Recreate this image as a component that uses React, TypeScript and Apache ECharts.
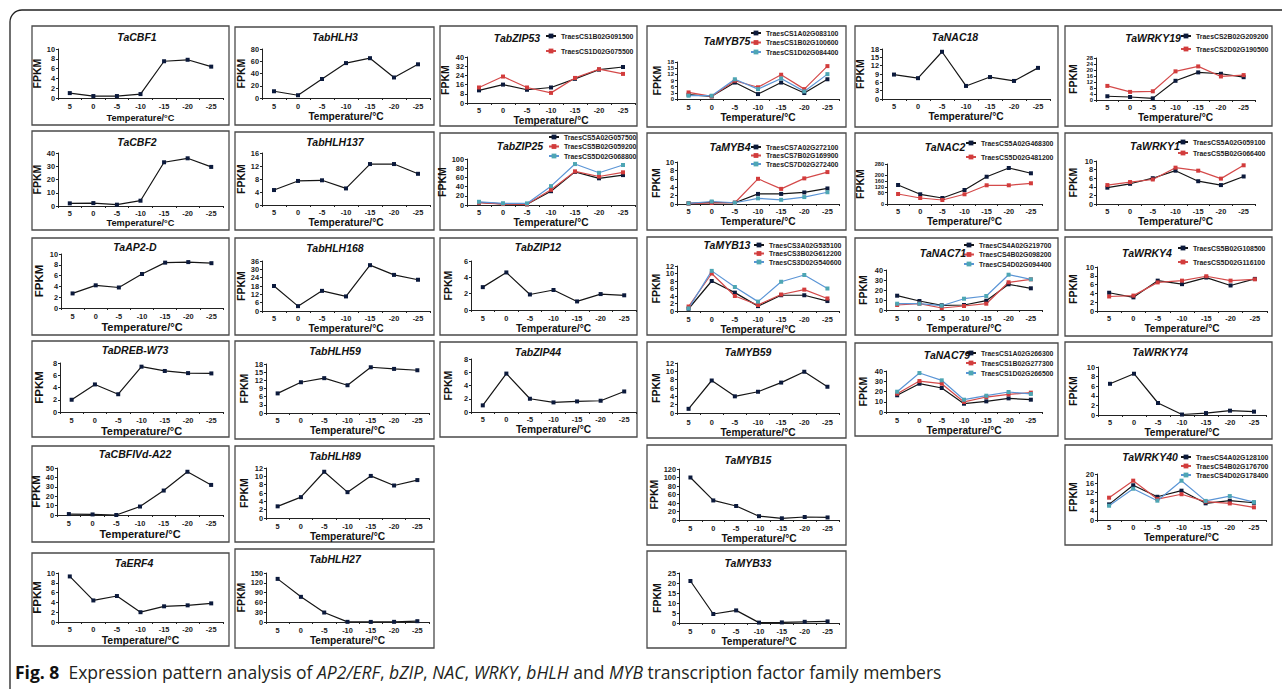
import React, { useEffect, useRef } from 'react';
import * as echarts from 'echarts';

const temperatures = ['5', '0', '-5', '-10', '-15', '-20', '-25'];

// ---- single-series panels (FPKM) ----
const TaCBF1 = [1.0, 0.4, 0.4, 0.8, 7.5, 7.8, 6.4];
const TaCBF2 = [2.0, 2.2, 1.0, 4.0, 33, 36, 29.5];
const TaAP2D = [2.7, 4.2, 3.8, 6.3, 8.4, 8.5, 8.3];
const TaDREBW73 = [2.0, 4.5, 2.9, 7.4, 6.7, 6.35, 6.3];
const TaCBFIVdA22 = [1, 0.6, 0, 9, 26, 46, 32];
const TaERF4 = [9.3, 4.4, 5.3, 2.0, 3.2, 3.4, 3.8];
const TabHLH3 = [11, 4.5, 31, 57, 65, 33.5, 55];
const TabHLH137 = [4.6, 7.4, 7.6, 5.1, 12.6, 12.6, 9.6];
const TabHLH168 = [18, 3.5, 14.5, 10.5, 33, 26, 22.5];
const TabHLH59 = [7.2, 11.3, 12.8, 10.2, 16.8, 16.2, 15.7];
const TabHLH89 = [2.8, 5.0, 11.1, 6.2, 10.1, 7.8, 9.1];
const TabHLH27 = [132, 77, 29, 0.5, 0.3, 0.5, 2.5];
const TabZIP12 = [2.8, 4.6, 1.9, 2.45, 1.05, 1.95, 1.8];
const TabZIP44 = [1.0, 5.8, 2.0, 1.45, 1.6, 1.7, 3.1];
const TaMYB59 = [1.0, 7.8, 4.0, 5.1, 7.3, 9.9, 6.3];
const TaMYB15 = [100, 46, 33, 9, 4, 7, 6];
const TaMYB33 = [21, 4.5, 6.3, 0.2, 0.3, 0.6, 0.8];
const TaNAC18 = [8.8, 7.5, 17, 4.7, 7.9, 6.5, 11.2];
const TaWRKY74 = [6.5, 8.6, 2.5, 0.1, 0.4, 0.9, 0.7];

// ---- multi-copy panels (FPKM per homoeolog) ----
const TraesCS1B02G091500 = [11, 16, 11.5, 13.5, 21, 29, 31.3];
const TraesCS1D02G075500 = [13.5, 23, 13.5, 8.8, 21.8, 29.4, 25.3];
const TraesCS5A02G057500 = [5.5, 2.5, 1.5, 30, 72, 58, 65];
const TraesCS5B02G059200 = [5, 2, 1.5, 33, 73, 62, 71];
const TraesCS5D02G068800 = [7, 3.6, 3.5, 41, 89, 70, 87];
const TraesCS1A02G083100 = [2.1, 1.3, 8.0, 2.4, 8.0, 2.9, 9.6];
const TraesCS1B02G100600 = [3.2, 1.3, 8.9, 5.7, 11.8, 4.8, 16.0];
const TraesCS1D02G084400 = [1.6, 1.6, 9.6, 4.8, 10.0, 3.7, 12.1];
const TraesCS7A02G272100 = [0.15, 0.4, 0.3, 2.4, 2.4, 2.75, 3.7];
const TraesCS7B02G169900 = [0.1, 0.25, 0.3, 6.0, 3.6, 6.1, 7.6];
const TraesCS7D02G272400 = [0.15, 0.6, 0.3, 1.35, 1.0, 1.65, 2.8];
const TraesCS3A02G535100 = [0.6, 8.0, 4.9, 1.3, 4.2, 4.2, 2.65];
const TraesCS3B02G612200 = [1.2, 10.0, 4.0, 1.6, 4.4, 5.7, 3.35];
const TraesCS3D02G540600 = [0.7, 10.7, 6.4, 2.5, 7.8, 9.6, 6.0];
const TraesCS5A02G468300 = [133, 68, 42, 98, 191, 252, 215];
const TraesCS5D02G481200 = [70, 42, 28, 68, 131, 131, 145];
const TraesCS4A02G219700 = [14.3, 9, 4.7, 5, 9.3, 25.7, 21.7];
const TraesCS4B02G098200 = [5, 6.3, 2, 4, 6.3, 27.7, 30.7];
const TraesCS4D02G094400 = [6.3, 6.3, 4.3, 11.3, 14, 35.3, 30.7];
const TraesCS1A02G266300 = [16.3, 27.6, 23.4, 8.1, 10.4, 13.3, 12];
const TraesCS1B02G277300 = [17.9, 30.2, 27.6, 9.8, 14.6, 17.2, 18.9];
const TraesCS1D02G266500 = [19.8, 38, 30.9, 12, 15.9, 19.5, 17.6];
const TraesCS2B02G209200 = [2.5, 2.0, 1.1, 12.8, 18.4, 17.5, 15.2];
const TraesCS2D02G190500 = [9.4, 5.4, 5.8, 19.1, 22.4, 15.7, 16.6];
const TraesCS5A02G059100 = [3.8, 4.7, 6.0, 7.75, 5.3, 4.4, 6.4];
const TraesCS5B02G066400 = [4.4, 5.1, 5.7, 8.45, 7.75, 5.9, 9.0];
const TraesCS5B02G108500 = [4.15, 3.1, 6.9, 6.1, 7.6, 5.8, 7.3];
const TraesCS5D02G116100 = [3.3, 3.5, 6.5, 6.9, 7.9, 6.9, 7.2];
const TraesCS4A02G128100 = [6.8, 15.1, 10.1, 12.75, 7.25, 8.4, 7.5];
const TraesCS4B02G176700 = [9.7, 17.1, 9.1, 11.2, 8, 7.2, 5.5];
const TraesCS4D02G178400 = [6.2, 13.6, 8.4, 17.1, 8.3, 10.4, 7.8];

// ---- styles ----
const FONT = '"Liberation Sans", Arial, sans-serif';
const CAPFONT = '"Open Sans", "Noto Sans", sans-serif';
const INK = '#1a1a1a';
const STYLE: Record<string, { line: string; mark: string }> = {
  k: { line: '#151515', mark: '#0c1a3c' },
  r: { line: '#d44a4a', mark: '#d23c3c' },
  b: { line: '#5b95d6', mark: '#4ea6b4' },
};

type S = { name: string; data: number[]; kind: 'k' | 'r' | 'b' };
type Panel = {
  title: string;
  series: S[];
  yMax: number;
  yStep: number;
  box: [number, number, number, number];
  tpos: [number, number];
  plot: [number, number, number, number]; // left, top, right, zero-line y
  labelY: number;
  nameY: number;
  nameSize?: number;
  fpkmX: number;
  fpkmSize?: number;
  ySize?: number;
  legend?: [number, number, number]; // text start x, first row y, row spacing
};

const one = (name: string, data: number[]): S[] => [{ name, data, kind: 'k' }];

const panels: Panel[] = [
  // column 1
  { title: 'TaCBF1', series: one('TaCBF1', TaCBF1), yMax: 10, yStep: 2, box: [32, 26, 197, 99], tpos: [137, 37], plot: [58, 49, 223, 98], labelY: 107, nameY: 118, nameSize: 9.2, fpkmX: 39 },
  { title: 'TaCBF2', series: one('TaCBF2', TaCBF2), yMax: 40, yStep: 10, box: [32, 131, 197, 99], tpos: [137, 142], plot: [58, 153, 223, 206], labelY: 214, nameY: 223, nameSize: 9.2, fpkmX: 39 },
  { title: 'TaAP2-D', series: one('TaAP2-D', TaAP2D), yMax: 10, yStep: 2, box: [32, 238, 197, 97], tpos: [135, 247], plot: [61, 254, 223, 308], labelY: 317, nameY: 326, nameSize: 11, fpkmX: 39, fpkmSize: 11.5 },
  { title: 'TaDREB-W73', series: one('TaDREB-W73', TaDREBW73), yMax: 8, yStep: 2, box: [32, 341, 197, 96], tpos: [135, 350], plot: [60, 363, 223, 412], labelY: 421, nameY: 427, nameSize: 11, fpkmX: 39, fpkmSize: 11.5 },
  { title: 'TaCBFIVd-A22', series: one('TaCBFIVd-A22', TaCBFIVdA22), yMax: 50, yStep: 10, box: [32, 446, 197, 96], tpos: [135, 454], plot: [57, 468, 223, 515], labelY: 524, nameY: 533, nameSize: 11, fpkmX: 39, fpkmSize: 11.5 },
  { title: 'TaERF4', series: one('TaERF4', TaERF4), yMax: 10, yStep: 2, box: [32, 553, 197, 93], tpos: [134, 563], plot: [58, 573, 223, 622], labelY: 630, nameY: 636, nameSize: 10.5, fpkmX: 39, fpkmSize: 11.5 },
  // column 2
  { title: 'TabHLH3', series: one('TabHLH3', TabHLH3), yMax: 80, yStep: 20, box: [235, 27, 199, 98], tpos: [335, 37], plot: [262, 49, 430, 98], labelY: 107, nameY: 117, fpkmX: 242 },
  { title: 'TabHLH137', series: one('TabHLH137', TabHLH137), yMax: 16, yStep: 4, box: [235, 132, 199, 98], tpos: [335, 142], plot: [262, 153, 430, 205], labelY: 213, nameY: 221, fpkmX: 242 },
  { title: 'TabHLH168', series: one('TabHLH168', TabHLH168), yMax: 36, yStep: 6, box: [235, 238, 199, 97], tpos: [335, 248], plot: [262, 261, 430, 311], labelY: 319, nameY: 327, fpkmX: 242 },
  { title: 'TabHLH59', series: one('TabHLH59', TabHLH59), yMax: 18, yStep: 3, box: [235, 341, 199, 98], tpos: [335, 351], plot: [266, 364, 429, 413], labelY: 421, nameY: 429, fpkmX: 244 },
  { title: 'TabHLH89', series: one('TabHLH89', TabHLH89), yMax: 12, yStep: 2, box: [235, 446, 199, 96], tpos: [335, 456], plot: [266, 468, 429, 518], labelY: 527, nameY: 533, fpkmX: 244 },
  { title: 'TabHLH27', series: one('TabHLH27', TabHLH27), yMax: 150, yStep: 30, box: [235, 549, 199, 99], tpos: [335, 559], plot: [266, 573, 429, 622], labelY: 631, nameY: 638, fpkmX: 244 },
  // column 3
  {
    title: 'TabZIP53', yMax: 40, yStep: 8, box: [440, 26, 197, 100], tpos: [517, 38], plot: [467, 57, 635, 103], labelY: 111, nameY: 117, fpkmX: 445, legend: [560, 36, 15],
    series: [
      { name: 'TraesCS1B02G091500', data: TraesCS1B02G091500, kind: 'k' },
      { name: 'TraesCS1D02G075500', data: TraesCS1D02G075500, kind: 'r' },
    ],
  },
  {
    title: 'TabZIP25', yMax: 100, yStep: 20, box: [440, 133, 197, 97], tpos: [520, 146], plot: [467, 159, 635, 205], labelY: 213, nameY: 221, fpkmX: 445, legend: [563, 137, 9.5],
    series: [
      { name: 'TraesCS5A02G057500', data: TraesCS5A02G057500, kind: 'k' },
      { name: 'TraesCS5B02G059200', data: TraesCS5B02G059200, kind: 'r' },
      { name: 'TraesCS5D02G068800', data: TraesCS5D02G068800, kind: 'b' },
    ],
  },
  { title: 'TabZIP12', series: one('TabZIP12', TabZIP12), yMax: 6, yStep: 2, box: [440, 238, 197, 97], tpos: [538, 247], plot: [471, 261, 636, 310], labelY: 319, nameY: 327, fpkmX: 448 },
  { title: 'TabZIP44', series: one('TabZIP44', TabZIP44), yMax: 8, yStep: 2, box: [440, 342, 197, 95], tpos: [538, 352], plot: [471, 359, 636, 412], labelY: 420, nameY: 428, fpkmX: 448 },
  // column 4
  {
    title: 'TaMYB75', yMax: 18, yStep: 3, box: [647, 26, 199, 101], tpos: [727, 41], plot: [677, 62, 839, 99], labelY: 108, nameY: 117, fpkmX: 657, ySize: 6, legend: [765, 33, 9.5],
    series: [
      { name: 'TraesCS1A02G083100', data: TraesCS1A02G083100, kind: 'k' },
      { name: 'TraesCS1B02G100600', data: TraesCS1B02G100600, kind: 'r' },
      { name: 'TraesCS1D02G084400', data: TraesCS1D02G084400, kind: 'b' },
    ],
  },
  {
    title: 'TaMYB4', yMax: 10, yStep: 2, box: [647, 133, 199, 97], tpos: [730, 147], plot: [677, 162, 839, 204], labelY: 212, nameY: 220, fpkmX: 657, legend: [765, 147, 8.5],
    series: [
      { name: 'TraesCS7A02G272100', data: TraesCS7A02G272100, kind: 'k' },
      { name: 'TraesCS7B02G169900', data: TraesCS7B02G169900, kind: 'r' },
      { name: 'TraesCS7D02G272400', data: TraesCS7D02G272400, kind: 'b' },
    ],
  },
  {
    title: 'TaMYB13', yMax: 12, yStep: 2, box: [647, 237, 199, 98], tpos: [727, 245], plot: [677, 266, 839, 311], labelY: 320, nameY: 325, fpkmX: 657, legend: [768, 245, 8.5],
    series: [
      { name: 'TraesCS3A02G535100', data: TraesCS3A02G535100, kind: 'k' },
      { name: 'TraesCS3B02G612200', data: TraesCS3B02G612200, kind: 'r' },
      { name: 'TraesCS3D02G540600', data: TraesCS3D02G540600, kind: 'b' },
    ],
  },
  { title: 'TaMYB59', series: one('TaMYB59', TaMYB59), yMax: 12, yStep: 2, box: [647, 342, 199, 96], tpos: [748, 352], plot: [677, 363, 839, 413], labelY: 423, nameY: 430, fpkmX: 657 },
  { title: 'TaMYB15', series: one('TaMYB15', TaMYB15), yMax: 120, yStep: 20, box: [647, 445, 199, 100], tpos: [748, 460], plot: [679, 469, 839, 520], labelY: 529, nameY: 535, fpkmX: 657 },
  { title: 'TaMYB33', series: one('TaMYB33', TaMYB33), yMax: 25, yStep: 5, box: [647, 551, 199, 97], tpos: [748, 563], plot: [679, 573, 839, 623], labelY: 632, nameY: 641, fpkmX: 657 },
  // column 5
  { title: 'TaNAC18', series: one('TaNAC18', TaNAC18), yMax: 18, yStep: 3, box: [855, 26, 203, 101], tpos: [955, 37], plot: [882, 49, 1050, 99], labelY: 107, nameY: 117, fpkmX: 860 },
  {
    title: 'TaNAC2', yMax: 280, yStep: 40, box: [855, 133, 203, 97], tpos: [945, 147], plot: [887, 164, 1042, 204], labelY: 212, nameY: 220, fpkmX: 860, ySize: 5.6, legend: [980, 143, 14],
    series: [
      { name: 'TraesCS5A02G468300', data: TraesCS5A02G468300, kind: 'k' },
      { name: 'TraesCS5D02G481200', data: TraesCS5D02G481200, kind: 'r' },
    ],
  },
  {
    title: 'TaNAC71', yMax: 40, yStep: 10, box: [855, 238, 203, 97], tpos: [943, 253], plot: [886, 270, 1042, 310], labelY: 319, nameY: 327, fpkmX: 863, legend: [978, 245, 9.5],
    series: [
      { name: 'TraesCS4A02G219700', data: TraesCS4A02G219700, kind: 'k' },
      { name: 'TraesCS4B02G098200', data: TraesCS4B02G098200, kind: 'r' },
      { name: 'TraesCS4D02G094400', data: TraesCS4D02G094400, kind: 'b' },
    ],
  },
  {
    title: 'TaNAC79', yMax: 40, yStep: 10, box: [855, 343, 203, 93], tpos: [947, 355], plot: [886, 371, 1042, 412], labelY: 421, nameY: 427, fpkmX: 863, legend: [980, 353, 10],
    series: [
      { name: 'TraesCS1A02G266300', data: TraesCS1A02G266300, kind: 'k' },
      { name: 'TraesCS1B02G277300', data: TraesCS1B02G277300, kind: 'r' },
      { name: 'TraesCS1D02G266500', data: TraesCS1D02G266500, kind: 'b' },
    ],
  },
  // column 6
  {
    title: 'TaWRKY19', yMax: 28, yStep: 4, box: [1065, 26, 207, 100], tpos: [1153, 38], plot: [1096, 58, 1255, 100], labelY: 108, nameY: 117, fpkmX: 1073, ySize: 5.9, legend: [1195, 36, 13],
    series: [
      { name: 'TraesCS2B02G209200', data: TraesCS2B02G209200, kind: 'k' },
      { name: 'TraesCS2D02G190500', data: TraesCS2D02G190500, kind: 'r' },
    ],
  },
  {
    title: 'TaWRKY1', yMax: 10, yStep: 2, box: [1065, 133, 207, 97], tpos: [1155, 146], plot: [1096, 161, 1255, 204], labelY: 212, nameY: 220, fpkmX: 1073, legend: [1192, 142, 11],
    series: [
      { name: 'TraesCS5A02G059100', data: TraesCS5A02G059100, kind: 'k' },
      { name: 'TraesCS5B02G066400', data: TraesCS5B02G066400, kind: 'r' },
    ],
  },
  {
    title: 'TaWRKY4', yMax: 10, yStep: 2, box: [1065, 237, 207, 99], tpos: [1147, 253], plot: [1097, 267, 1267, 311], labelY: 319, nameY: 328, fpkmX: 1073, legend: [1192, 248, 14],
    series: [
      { name: 'TraesCS5B02G108500', data: TraesCS5B02G108500, kind: 'k' },
      { name: 'TraesCS5D02G116100', data: TraesCS5D02G116100, kind: 'r' },
    ],
  },
  { title: 'TaWRKY74', series: one('TaWRKY74', TaWRKY74), yMax: 10, yStep: 2, box: [1065, 342, 207, 97], tpos: [1160, 352], plot: [1098, 367, 1266, 415], labelY: 423, nameY: 432, fpkmX: 1073 },
  {
    title: 'TaWRKY40', yMax: 20, yStep: 4, box: [1065, 445, 207, 100], tpos: [1150, 457], plot: [1097, 474, 1266, 520], labelY: 528, nameY: 535, fpkmX: 1073, legend: [1195, 457, 9],
    series: [
      { name: 'TraesCS4A02G128100', data: TraesCS4A02G128100, kind: 'k' },
      { name: 'TraesCS4B02G176700', data: TraesCS4B02G176700, kind: 'r' },
      { name: 'TraesCS4D02G178400', data: TraesCS4D02G178400, kind: 'b' },
    ],
  },
];

const captionText =
  '{b|Fig. 8}  Expression pattern analysis of {i|AP2/ERF}, {i|bZIP}, {i|NAC}, {i|WRKY}, {i|bHLH} and {i|MYB} transcription factor family members';

function buildOption() {
  const grid: any[] = [];
  const xAxis: any[] = [];
  const yAxis: any[] = [];
  const series: any[] = [];
  const legend: any[] = [];
  const graphic: any[] = [];

  graphic.push({
    type: 'rect',
    z: 0,
    shape: { x: 10, y: 10, width: 1300, height: 700, r: [12, 0, 0, 0] },
    style: { fill: 'none', stroke: '#222', lineWidth: 1.3 },
  });

  panels.forEach((p, i) => {
    const [l, t, r, z] = p.plot;
    const ns = p.nameSize ?? 10.2;
    const fs = p.fpkmSize ?? 10.5;
    grid.push({ left: l, top: t, width: r - l, height: z - t });
    xAxis.push({
      type: 'category',
      gridIndex: i,
      data: temperatures,
      boundaryGap: true,
      axisLine: { lineStyle: { color: '#222', width: 1 } },
      axisTick: { show: true, length: 2, lineStyle: { color: '#222' } },
      axisLabel: {
        interval: 0,
        margin: p.labelY - z - 3.7,
        fontSize: 7.4,
        fontWeight: 'bold',
        color: INK,
        fontFamily: FONT,
      },
      name: 'Temperature/°C',
      nameLocation: 'middle',
      nameGap: p.nameY - z - ns / 2,
      nameTextStyle: { fontSize: ns, fontWeight: 'bold', color: '#111', fontFamily: FONT },
    });
    yAxis.push({
      type: 'value',
      gridIndex: i,
      min: 0,
      max: p.yMax,
      interval: p.yStep,
      axisLine: { show: true, lineStyle: { color: '#222', width: 1 } },
      axisTick: { show: true, length: 2, lineStyle: { color: '#222' } },
      splitLine: { show: false },
      axisLabel: {
        fontSize: p.ySize ?? 7.4,
        lineHeight: p.ySize ?? 7.4,
        fontWeight: 'bold',
        color: INK,
        fontFamily: FONT,
        margin: 3,
        showMinLabel: true,
        showMaxLabel: true,
        hideOverlap: false,
      },
      name: 'FPKM',
      nameLocation: 'middle',
      nameGap: l - p.fpkmX - fs / 2,
      nameTextStyle: { fontSize: fs, fontWeight: 'bold', color: '#111', fontFamily: FONT },
    });
    p.series.forEach((s) => {
      const st = STYLE[s.kind];
      series.push({
        type: 'line',
        name: s.name,
        xAxisIndex: i,
        yAxisIndex: i,
        data: s.data,
        symbol: 'rect',
        symbolSize: 4,
        showSymbol: true,
        lineStyle: { color: st.line, width: 1.2 },
        itemStyle: { color: st.mark },
        emphasis: { disabled: true },
        z: 3,
      });
    });
    if (p.legend) {
      const [lx, ly, sp] = p.legend;
      legend.push({
        data: p.series.map((s) => s.name),
        orient: 'vertical',
        left: lx - 15,
        top: ly - 4,
        itemWidth: 10,
        itemHeight: 6,
        itemGap: sp - 8,
        padding: 0,
        selectedMode: false,
        textStyle: { fontSize: 6.9, fontWeight: 'bold', color: '#222', fontFamily: FONT, lineHeight: 8 },
      });
    }
    const [bx, by, bw, bh] = p.box;
    graphic.push({
      type: 'rect',
      z: 0,
      shape: { x: bx, y: by, width: bw, height: bh },
      style: { fill: 'none', stroke: '#4a4a4a', lineWidth: 1.3 },
    });
    graphic.push({
      type: 'text',
      z: 5,
      x: p.tpos[0],
      y: p.tpos[1],
      style: {
        text: p.title,
        align: 'center',
        verticalAlign: 'middle',
        fontSize: 10.5,
        fontWeight: 'bold',
        fontStyle: 'italic',
        fontFamily: FONT,
        fill: '#111',
      },
    });
  });

  graphic.push({
    type: 'text',
    z: 5,
    x: 15,
    y: 672,
    style: {
      text: captionText,
      verticalAlign: 'middle',
      fontSize: 17.5,
      fontFamily: CAPFONT,
      fill: '#231f20',
      rich: {
        b: { fontWeight: 'bold', fontSize: 17.5, fontFamily: CAPFONT, fill: '#111' },
        i: { fontStyle: 'italic', fontSize: 17.5, fontFamily: CAPFONT, fill: '#231f20' },
      },
    },
  });

  return {
    animation: false,
    backgroundColor: '#ffffff',
    grid,
    xAxis,
    yAxis,
    series,
    legend,
    graphic,
  };
}

export default function App() {
  const ref = useRef<HTMLDivElement>(null);
  useEffect(() => {
    if (!ref.current) return;
    const chart = echarts.init(ref.current, undefined, { renderer: 'svg' });
    chart.setOption(buildOption() as any);
    return () => chart.dispose();
  }, []);
  return (
    <div
      ref={ref}
      style={{ position: 'absolute', left: 0, top: 0, width: 1282, height: 689, background: '#fff' }}
    />
  );
}
